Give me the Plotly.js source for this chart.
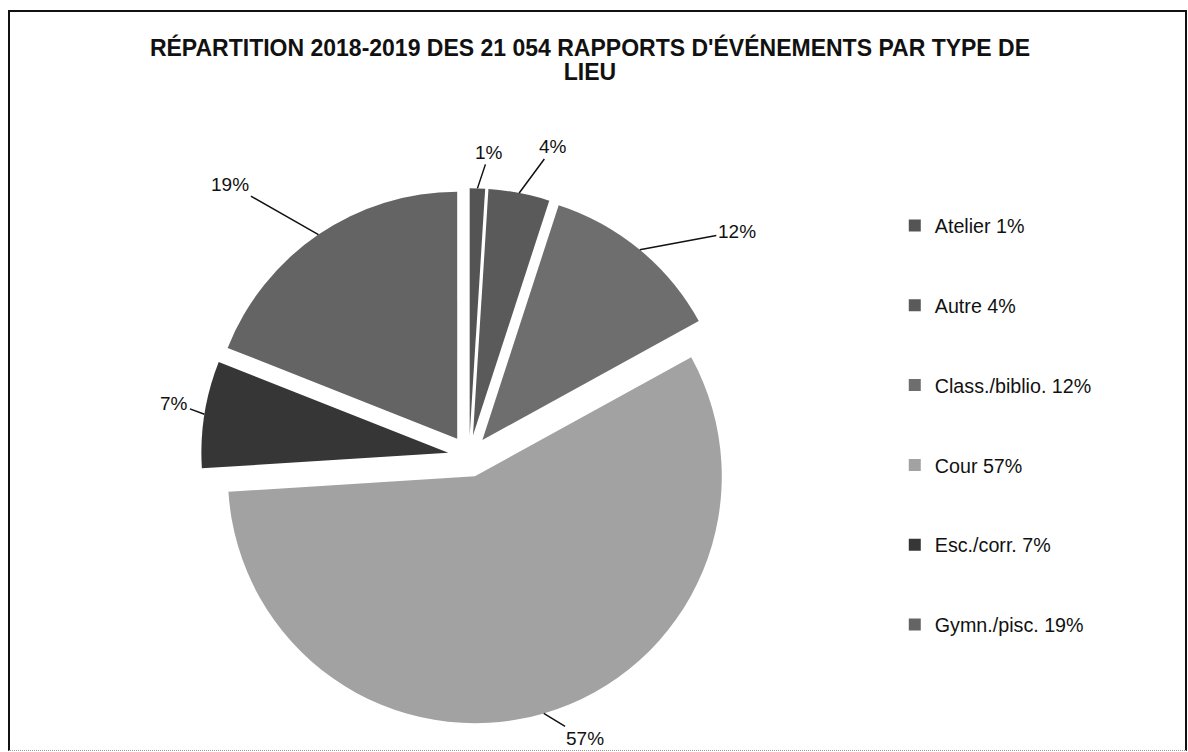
<!DOCTYPE html>
<html>
<head>
<meta charset="utf-8">
<script src="https://cdn.plot.ly/plotly-3.0.1.min.js"></script>
<style>
  html, body { margin: 0; padding: 0; background: #fff; }
  #frame { position: absolute; left: 8px; top: 10px; width: 1175px; height: 738px; border: 2px solid #111; border-bottom: 1px dotted #999; }
  #chart { width: 1175px; height: 738px; }
</style>
</head>
<body>
<div id="frame"><div id="chart"></div></div>
<script>
// ---- data ----
const categories = ["Atelier", "Autre", "Class./biblio.", "Cour", "Esc./corr.", "Gymn./pisc."];
const percents = [1, 4, 12, 57, 7, 19];
const titleText = "RÉPARTITION 2018-2019 DES 21 054 RAPPORTS D'ÉVÉNEMENTS PAR TYPE DE<br>LIEU";

// ---- style ----
const sliceColors = ["#545454", "#5a5a5a", "#6e6e6e", "#a2a2a2", "#363636", "#646464"];
const FONT = "Liberation Sans, Arial, sans-serif";
const W = 1175, H = 738;
const PULL = 0.085;
const DOMAIN = { x: [0.1626, 0.6187], y: [0.0352, 0.7612] };
// pixel offsets of each percentage label from its slice edge (leader lines)
const labelOffsets = [[12, -36], [34, -46], [97, -18], [41, 25], [-30, -11], [-88, -50]];

const legendLabels = categories.map((c, i) => "&nbsp;<br>" + c + " " + percents[i] + "%<br>&nbsp;");

const trace = {
  type: "pie",
  labels: legendLabels,
  values: percents,
  sort: false,
  direction: "clockwise",
  rotation: 0,
  pull: PULL,
  marker: { colors: sliceColors, line: { width: 0 } },
  textinfo: "none",
  domain: DOMAIN,
  hoverinfo: "none"
};

// leader-line labels anchored on the pulled slice edges (geometry follows Plotly's pie layout)
const cxPx = (DOMAIN.x[0] + DOMAIN.x[1]) / 2 * W;
const cyPx = (1 - (DOMAIN.y[0] + DOMAIN.y[1]) / 2) * H;
const rPx = Math.min((DOMAIN.x[1] - DOMAIN.x[0]) * W, (DOMAIN.y[1] - DOMAIN.y[0]) * H) / 2 / (1 + PULL);
const total = percents.reduce((a, b) => a + b, 0);
let cum = 0;
const annotations = percents.map((v, i) => {
  const mid = (cum + v / 2) / total * 2 * Math.PI;
  cum += v;
  const px = cxPx + (1 + PULL) * rPx * Math.sin(mid);
  const py = cyPx - (1 + PULL) * rPx * Math.cos(mid);
  return {
    x: px / W, y: 1 - py / H, xref: "paper", yref: "paper",
    text: v + "%",
    showarrow: true, arrowhead: 0, arrowwidth: 1.5, arrowcolor: "#111", standoff: 0,
    ax: labelOffsets[i][0], ay: labelOffsets[i][1],
    font: { family: FONT, size: 19, color: "#111" }
  };
});

const layout = {
  width: W,
  height: H,
  margin: { l: 0, r: 0, t: 0, b: 0 },
  paper_bgcolor: "#fff",
  font: { family: FONT, color: "#111" },
  title: {
    text: "<span style='font-size:23px'>" + titleText.replace("<br>", "</span><br><span style='font-size:23px'>") + "</span>",
    font: { family: FONT, size: 18.5, color: "#111", weight: "bold" },
    x: 0.4936, xanchor: "center",
    y: 0.94, yanchor: "middle"
  },
  showlegend: true,
  legend: {
    x: 0.753, xanchor: "left",
    y: 0.4404, yanchor: "middle",
    font: { family: FONT, size: 19.7, color: "#111" },
    itemwidth: 30
  },
  annotations: annotations
};

Plotly.newPlot("chart", [trace], layout, { staticPlot: true, displayModeBar: false });
</script>
</body>
</html>
